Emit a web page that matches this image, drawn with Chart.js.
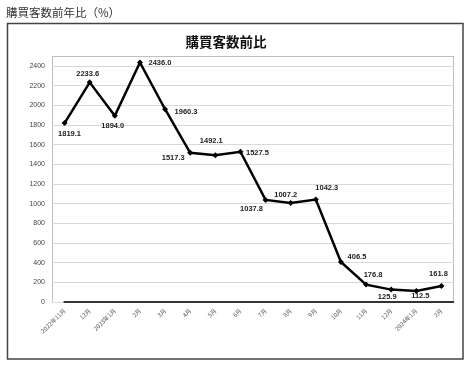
<!DOCTYPE html>
<html>
<head>
<meta charset="utf-8">
<script src="https://cdn.jsdelivr.net/npm/chart.js@4/dist/chart.umd.min.js"></script>
<style>
html,body{margin:0;padding:0;background:#fff;}
#wrap{position:relative;width:469px;height:366px;}
</style>
</head>
<body>
<div id="wrap"><canvas id="c" width="469" height="366"></canvas></div>
<script>
const categories = ["2022年11月","12月","2023年1月","2月","3月","4月","5月","6月","7月","8月","9月","10月","11月","12月","2024年1月","2月"];
const values = [1819.1,2233.6,1894.0,2436.0,1960.3,1517.3,1492.1,1527.5,1037.8,1007.2,1042.3,406.5,176.8,125.9,112.5,161.8];
const yTicks = [0,200,400,600,800,1000,1200,1400,1600,1800,2000,2200,2400];
const chartTitle = "購買客数前比";
const pageHeading = "購買客数前年比（%）";

// label offsets (dx, dy) relative to point, for placement only
const labelOffsets = [[5,11],[-2,-8],[-2,10],[20,0],[21,3],[-17,5],[-4,-14],[17,1],[-14,9],[-5,-8],[11,-12],[16,-5],[7,-10],[-4,7],[4,5],[-3,-12]];

const decor = {
  id:'decor',
  beforeDraw(chart){
    const ctx = chart.ctx;
    ctx.save();
    ctx.fillStyle='#fff';
    ctx.fillRect(0,0,chart.width,chart.height);
    ctx.fillStyle='#333';
    ctx.font='11.5px "Noto Sans CJK JP"';
    ctx.textBaseline='middle';
    ctx.textAlign='left';
    ctx.fillText(pageHeading,6,13);
    ctx.strokeStyle='#444';
    ctx.lineWidth=1.5;
    ctx.strokeRect(7.5,23.5,455.5,335.5);
    ctx.fillStyle='#111';
    ctx.font='bold 13.5px "Noto Sans CJK JP"';
    ctx.textAlign='center';
    ctx.fillText(chartTitle,226,42);
    const a = chart.chartArea;
    ctx.strokeStyle='#bfbfbf';
    ctx.lineWidth=1;
    ctx.strokeRect(Math.round(a.left)+0.5,56.5,Math.round(a.right-a.left)-1,Math.round(a.bottom)-56);
    ctx.restore();
  },
  afterDatasetsDraw(chart){
    const ctx = chart.ctx;
    const a = chart.chartArea;
    const meta = chart.getDatasetMeta(0);
    ctx.save();
    ctx.strokeStyle='#333';
    ctx.lineWidth=2;
    ctx.beginPath();
    const y0 = chart.scales.y.getPixelForValue(0);
    ctx.moveTo(meta.data[0].x-1,y0);
    ctx.lineTo(a.right,y0);
    ctx.stroke();
    ctx.restore();
  },
  afterDraw(chart){
    const ctx = chart.ctx;
    const meta = chart.getDatasetMeta(0);
    ctx.save();
    ctx.fillStyle='#222';
    ctx.font='bold 7.5px "Liberation Sans"';
    ctx.textAlign='center';
    ctx.textBaseline='middle';
    meta.data.forEach((p,i)=>{
      const o = labelOffsets[i];
      ctx.fillText(values[i].toFixed(1),p.x+o[0],p.y+o[1]);
    });
    ctx.restore();
  }
};

new Chart(document.getElementById('c'),{
  type:'line',
  data:{
    labels:categories,
    datasets:[{
      data:values,
      borderColor:'#000',
      borderWidth:2.5,
      backgroundColor:'#000',
      pointStyle:'rectRot',
      pointRadius:3,
      pointBorderWidth:0,
      tension:0,
      clip:false
    }]
  },
  options:{
    responsive:false,
    animation:false,
    devicePixelRatio:1,
    layout:{padding:{left:0,top:66,right:15,bottom:0}},
    plugins:{legend:{display:false},tooltip:{enabled:false},title:{display:false}},
    scales:{
      x:{
        type:'category',
        offset:true,
        grid:{display:false,drawTicks:false},
        border:{display:false},
        ticks:{
          autoSkip:false,
          minRotation:45,maxRotation:45,
          padding:5,
          color:'#555',
          font:{size:6,family:'"Noto Sans CJK JP"'}
        },
        afterFit(s){s.height=64;}
      },
      y:{
        min:0,max:2400,
        afterBuildTicks(s){s.ticks=yTicks.map(v=>({value:v}));},
        grid:{color:'#d9d9d9',lineWidth:1,drawTicks:false},
        border:{display:false},
        ticks:{
          padding:7,
          color:'#444',
          font:{size:7,family:'"Liberation Sans"'},
          callback:(v)=>String(v)
        },
        afterFit(s){s.width=52;}
      }
    }
  },
  plugins:[decor]
});
</script>
</body>
</html>
